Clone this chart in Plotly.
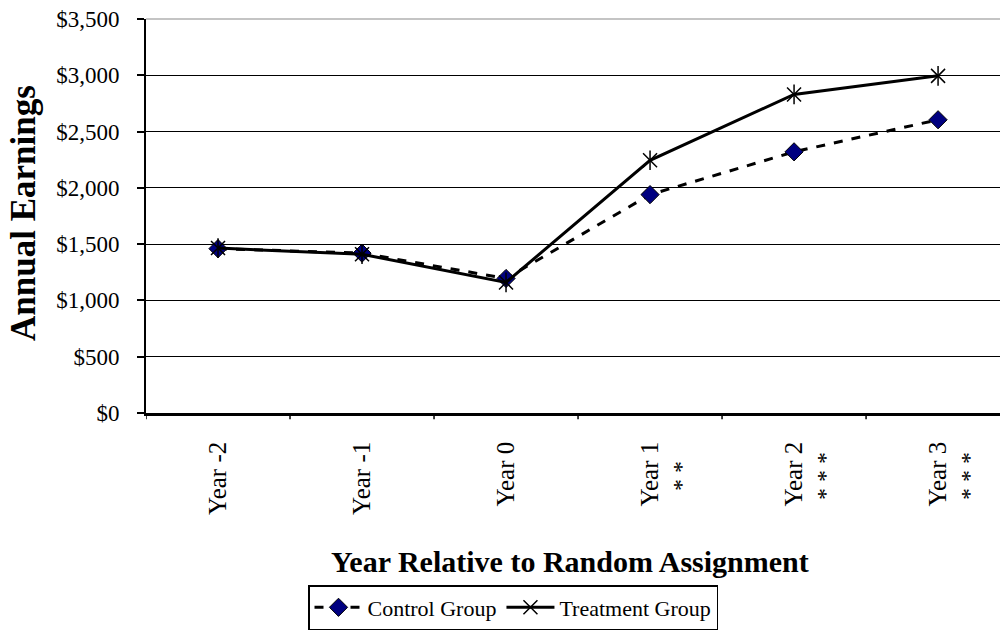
import plotly.graph_objects as go

categories = ["Year -2", "Year -1", "Year 0", "Year 1", "Year 2", "Year 3"]
control = [1460, 1420, 1195, 1940, 2320, 2605]
treatment = [1465, 1410, 1160, 2245, 2830, 2995]
significance = ["", "", "", "* *", "* * *", "* * *"]
y_ticks = [0, 500, 1000, 1500, 2000, 2500, 3000, 3500]
y_labels = ["$0", "$500", "$1,000", "$1,500", "$2,000", "$2,500", "$3,000", "$3,500"]

FONT = "Liberation Serif, Times New Roman, serif"
x_idx = list(range(len(categories)))

fig = go.Figure()
fig.add_trace(go.Scatter(
    x=x_idx, y=control, name="Control Group", mode="lines+markers",
    line=dict(color="black", width=3, dash="dash"),
    marker=dict(symbol="diamond", size=14, color="#000080", line=dict(color="black", width=1)),
))
fig.add_trace(go.Scatter(
    x=x_idx, y=treatment, name="Treatment Group", mode="lines+markers",
    line=dict(color="black", width=3),
    marker=dict(symbol="x-thin-open", size=14, color="black", line=dict(color="black", width=1.5)),
))
fig.add_trace(go.Scatter(
    x=x_idx, y=treatment, mode="markers", showlegend=False, hoverinfo="skip",
    marker=dict(symbol="line-ns-open", size=14, color="black", line=dict(color="black", width=1.5)),
))

for i, s in enumerate(significance):
    if s:
        fig.add_annotation(x=i + 0.215, y=(413 - 476) / 394, xref="x", yref="paper", text=s,
                           textangle=-90, showarrow=False, xanchor="center", yanchor="middle",
                           font=dict(family=FONT, size=24, color="black"))

fig.add_annotation(x=(570 - 146) / 854, y=(413 - 561) / 394, xref="paper", yref="paper",
                   text="<b>Year Relative to Random Assignment</b>", showarrow=False,
                   font=dict(family=FONT, size=30, color="black"), xanchor="center", yanchor="middle")

fig.add_annotation(x=(23 - 146) / 854, y=(413 - 213) / 394, xref="paper", yref="paper",
                   text="<b>Annual Earnings</b>", showarrow=False, textangle=-90,
                   font=dict(family=FONT, size=35, color="black"), xanchor="center", yanchor="middle")

fig.update_layout(
    width=1000, height=631,
    margin=dict(l=146, r=0, t=19, b=218),
    paper_bgcolor="white", plot_bgcolor="white",
    font=dict(family=FONT, color="black", size=22),
    showlegend=True,
    legend=dict(orientation="h", x=(308 - 146) / 854, y=(413 - 585) / 394, xanchor="left", yanchor="top",
                bordercolor="black", borderwidth=1.5, font=dict(family=FONT, size=22),
                itemwidth=48, tracegroupgap=0),
    xaxis=dict(
        range=[-0.5, 5.43], tickmode="array", tickvals=x_idx, ticktext=categories,
        tickangle=-90, showgrid=False, zeroline=False, automargin=False,
        showline=True, linecolor="black", linewidth=2.5,
        ticks="", tickfont=dict(family=FONT, size=25), ticklabelstandoff=16,
    ),
    yaxis=dict(
        range=[0, 3500], tickmode="array", tickvals=y_ticks, ticktext=y_labels,
        showgrid=True, gridcolor="black", gridwidth=1.3, zeroline=False, automargin=False,
        showline=True, linecolor="black", linewidth=2, ticks="outside", ticklen=7,
        tickcolor="black", tickwidth=1.5, tickfont=dict(family=FONT, size=23),
        ticklabelstandoff=13,
    ),
)

# lighter top border line of the plot area
fig.add_shape(type="line", xref="paper", yref="paper", x0=0, x1=1, y0=1, y1=1,
              line=dict(color="#b0b0b0", width=1.5), layer="above")

# category boundary tick marks on the x axis
for b in [-0.5, 0.5, 1.5, 2.5, 3.5, 4.5]:
    fig.add_shape(type="line", xref="x", yref="paper", x0=b, x1=b, y0=0, y1=-0.016,
                  line=dict(color="black", width=1.5))

fig.write_html("out.html", config={"displayModeBar": False},
               post_script="document.body.style.margin='0';document.body.style.overflow='hidden';")
